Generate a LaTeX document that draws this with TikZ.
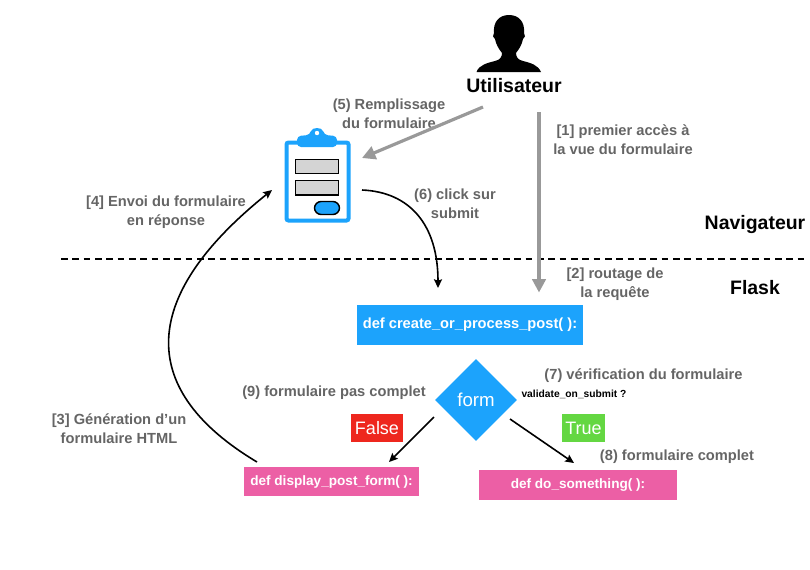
\documentclass[tikz,border=0pt]{standalone}
\usepackage{fontspec}
\setmainfont{Liberation Sans}
\definecolor{flblue}{RGB}{28,163,252}
\definecolor{flpink}{RGB}{236,95,165}
\definecolor{flred}{RGB}{238,39,30}
\definecolor{flgreen}{RGB}{100,215,66}
\definecolor{flgray}{RGB}{101,101,101}
\definecolor{flarrow}{RGB}{153,153,153}
\usetikzlibrary{arrows.meta,positioning,shapes.geometric,calc}
\tikzset{
  note/.style={align=center,font=\fontsize{11}{14.2}\selectfont\bfseries,text=flgray,inner sep=0pt},
  func/.style={text=white,align=center,font=\fontsize{10.2}{12}\selectfont\bfseries,inner sep=0pt},
  flag/.style={text=white,font=\fontsize{13.5}{16}\selectfont,inner sep=0pt},
  zone/.style={font=\fontsize{14.6}{17}\selectfont\bfseries,inner sep=0pt},
  grayarrow/.style={draw=flarrow,line width=2.4pt,-{Triangle[length=10pt,width=10pt]}},
  blackarrow/.style={draw=black,line width=1.2pt,-{Stealth[length=6.5pt,width=6pt,inset=1pt]}}
}
\begin{document}
\begin{tikzpicture}[x=0.75pt,y=-0.75pt]
  \useasboundingbox (0,0) rectangle (810,569);
  % Person
  \fill[black] (476.5,72) .. controls (479,65) and (487,63) .. (495,61)
    .. controls (500,60) and (502,57) .. (502,53)
    .. controls (498,48) and (496,44) .. (495,39)
    .. controls (493,38) and (492,35) .. (494,33)
    .. controls (493,22) and (499,15) .. (509,15)
    .. controls (519,15) and (525,22) .. (524,33)
    .. controls (526,35) and (525,38) .. (523,39)
    .. controls (522,44) and (520,48) .. (516,53)
    .. controls (516,57) and (518,60) .. (523,61)
    .. controls (531,63) and (538,65) .. (541,72) -- cycle;
  \node[font=\fontsize{14.6}{17}\selectfont\bfseries,inner sep=0pt] (user) at (514,86) {Utilisateur};
  % Clipboard
  \draw[flblue,fill=white,line width=3pt,rounded corners=1.5pt] (286.5,142.5) rectangle (348.5,220.5);
  \fill[flblue,rounded corners=3pt] (297,147) -- (297,136) -- (310,135)
    .. controls (312,127) and (322,127) .. (324,135) -- (337,136) -- (337,147) -- cycle;
  \fill[white] (317,133) circle (2.2);
  \draw[black,fill=black!17,line width=1.1pt] (295.5,159.5) rectangle (338.5,173.5);
  \draw[black,fill=black!17,line width=1.1pt] (295.5,180.5) rectangle (338.5,195);
  \draw[black,fill=flblue,line width=1.1pt,rounded corners=5pt] (314.5,201.5) rectangle (339.5,214.5);
  % Separator
  \coordinate (sepL) at (61,259);
  \coordinate (sepR) at (805,259);
  \draw[black,line width=1pt,dash pattern=on 5pt off 3.5pt] (sepL) -- (sepR);
  \node[zone] (nav) at (755,225) {Navigateur};
  \node[zone] (flask) at (755,288) {Flask};
  % Function boxes
  \node[func,font=\fontsize{11}{13}\selectfont\bfseries,fill=flblue,minimum width=169.5pt,minimum height=30pt] (process) at (470,325) {def create\_or\_process\_post( ):};
  \node[diamond,fill=flblue,text=white,inner sep=0pt,minimum width=61.5pt,minimum height=61.5pt,font=\fontsize{14}{16}\selectfont] (form) at (476,400) {form};
  \node[func,fill=flpink,minimum width=131pt,minimum height=22pt] (display) at (331.5,481.5) {def display\_post\_form( ):};
  \node[func,fill=flpink,minimum width=148.5pt,minimum height=22.5pt] (something) at (578,485) {def do\_something( ):};
  \node[flag,fill=flred,minimum width=39pt,minimum height=21pt] (false) at (377,428) {False};
  \node[flag,fill=flgreen,minimum width=32pt,minimum height=21pt] (true) at (583.5,428) {True};
  % Notes
  \node[note] (n5) at (389,113.5) {(5) Remplissage\\du formulaire};
  \node[note] (n1) at (623,139.5) {[1] premier accès à\\la vue du formulaire};
  \node[note] (n4) at (166,212.5) {[4] Envoi du formulaire\\en réponse};
  \node[note] (n6) at (455,204) {(6) click sur\\submit};
  \node[note] (n2) at (615,284) {[2] routage de\\la requête};
  \node[note] (n7) at (643.5,375.5) {(7) vérification du formulaire};
  \node[font=\fontsize{7.7}{9}\selectfont\bfseries,inner sep=0pt] (valid) at (574,394.5) {validate\_on\_submit ?};
  \node[note] (n9) at (334,392.5) {(9) formulaire pas complet};
  \node[note] (n3) at (119,428.5) {[3] Génération d'un\\formulaire HTML};
  \node[note] (n8) at (677,456.5) {(8) formulaire complet};
  % Free ends of the connectors
  \coordinate (clipIn) at (362,158);
  \coordinate (clipOut) at (362,190);
  \coordinate (clipBack) at (272,190);
  \coordinate (formL) at (434,417);
  \coordinate (formR) at (510,419);
  % Connectors
  \draw[grayarrow] (483,107) -- (clipIn);
  \draw[grayarrow] (539,112) -- (539,292.5);
  \draw[blackarrow] (clipOut) .. controls (410,192) and (438,225) .. (438,288);
  \draw[blackarrow] (formL) -- (389,462);
  \draw[blackarrow] (formR) -- (574,463);
  \draw[blackarrow] (257,462) .. controls (140,392) and (135,300) .. (clipBack);
\end{tikzpicture}
\end{document}
